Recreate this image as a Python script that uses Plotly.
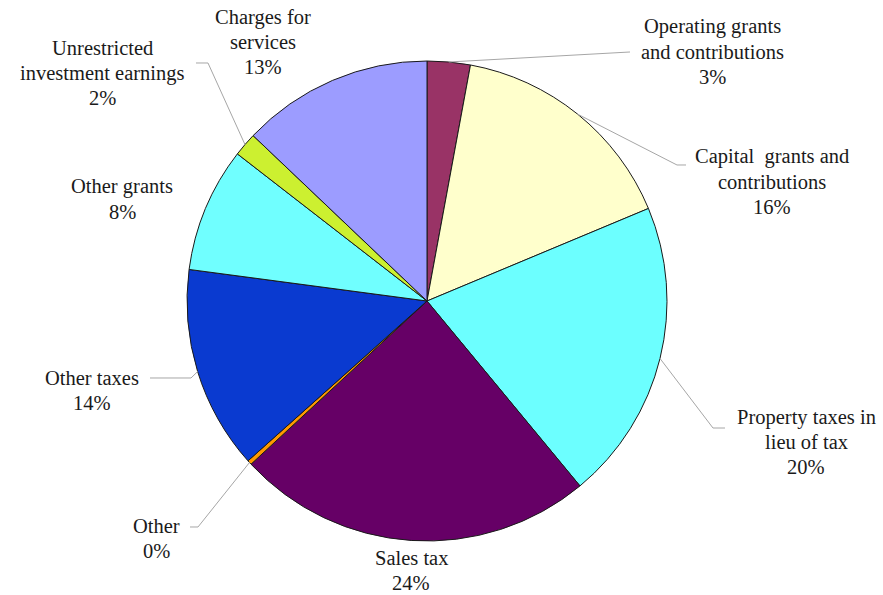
import math
import plotly.graph_objects as go

# Revenue sources, clockwise from 12 o'clock
labels = [
    "Operating grants<br>and contributions",
    "Capital  grants and<br>contributions",
    "Property taxes in<br>lieu of tax",
    "Sales tax",
    "Other",
    "Other taxes",
    "Other grants",
    "Unrestricted<br>investment earnings",
    "Charges for<br>services",
]
shares = [2.9, 15.8, 20.3, 24.1, 0.3, 13.7, 8.4, 1.6, 12.9]
colors = ["#993366", "#FFFFCC", "#6CFFFF", "#660066", "#FF9900",
          "#0A3AD0", "#70FFFF", "#CCF030", "#9C9CFF"]

W, H = 883, 595
CX, CY, R = 427, 301, 240  # pie centre and radius in pixels
FONT = "Times New Roman, Liberation Serif, DejaVu Serif"
FONT_SIZE = 20.5
LINE_GAP = 25  # pixels between text lines

# Label block centres (pixels) and optional leader-line bend/end points
label_pos = [(712, 52), (772, 182), (806, 442), (411, 570), (156, 538),
             (92, 390), (122, 199), (102, 73), (263, 42)]
leaders = [
    [(630, 52)],
    [(677, 165), (686, 165)],
    [(713, 428), (725, 428)],
    None,
    [(198, 527), (190, 527)],
    [(191, 378), (150, 378)],
    None,
    [(208, 63), (196, 63)],
    None,
]


def px(x, y):
    return x / W, 1 - y / H


fig = go.Figure(go.Pie(
    labels=labels,
    values=shares,
    marker=dict(colors=colors, line=dict(color="#1a1a1a", width=1)),
    sort=False,
    direction="clockwise",
    rotation=0,
    textinfo="none",
    hoverinfo="label+percent",
    showlegend=False,
    domain=dict(x=[(CX - R) / W, (CX + R) / W],
                y=[1 - (CY + R) / H, 1 - (CY - R) / H]),
))

total = sum(shares)
shapes, annotations = [], []
cum = 0.0
for lab, v, pos, lead in zip(labels, shares, label_pos, leaders):
    mid = (cum + v / 2) / total * 2 * math.pi
    cum += v
    lines = lab.split("<br>") + [f"{round(v / total * 100)}%"]
    top = pos[1] - LINE_GAP * (len(lines) - 1) / 2
    for i, line in enumerate(lines):
        ax, ay = px(pos[0], top + i * LINE_GAP)
        annotations.append(dict(
            x=ax, y=ay, xref="paper", yref="paper", text=line,
            showarrow=False, xanchor="center", yanchor="middle",
            font=dict(family=FONT, size=FONT_SIZE, color="#1a1a1a"),
        ))
    if lead:
        sx = CX + R * math.sin(mid)
        sy = CY - R * math.cos(mid)
        pts = [(sx, sy)] + lead
        path = "M " + " L ".join(
            f"{px(x, y)[0]:.5f},{px(x, y)[1]:.5f}" for x, y in pts)
        shapes.append(dict(type="path", path=path, xref="paper", yref="paper",
                           line=dict(color="#a6a6a6", width=1)))

fig.update_layout(
    width=W, height=H,
    margin=dict(l=0, r=0, t=0, b=0),
    paper_bgcolor="white", plot_bgcolor="white",
    font=dict(family=FONT),
    shapes=shapes, annotations=annotations,
)

fig.write_html("out.html")
